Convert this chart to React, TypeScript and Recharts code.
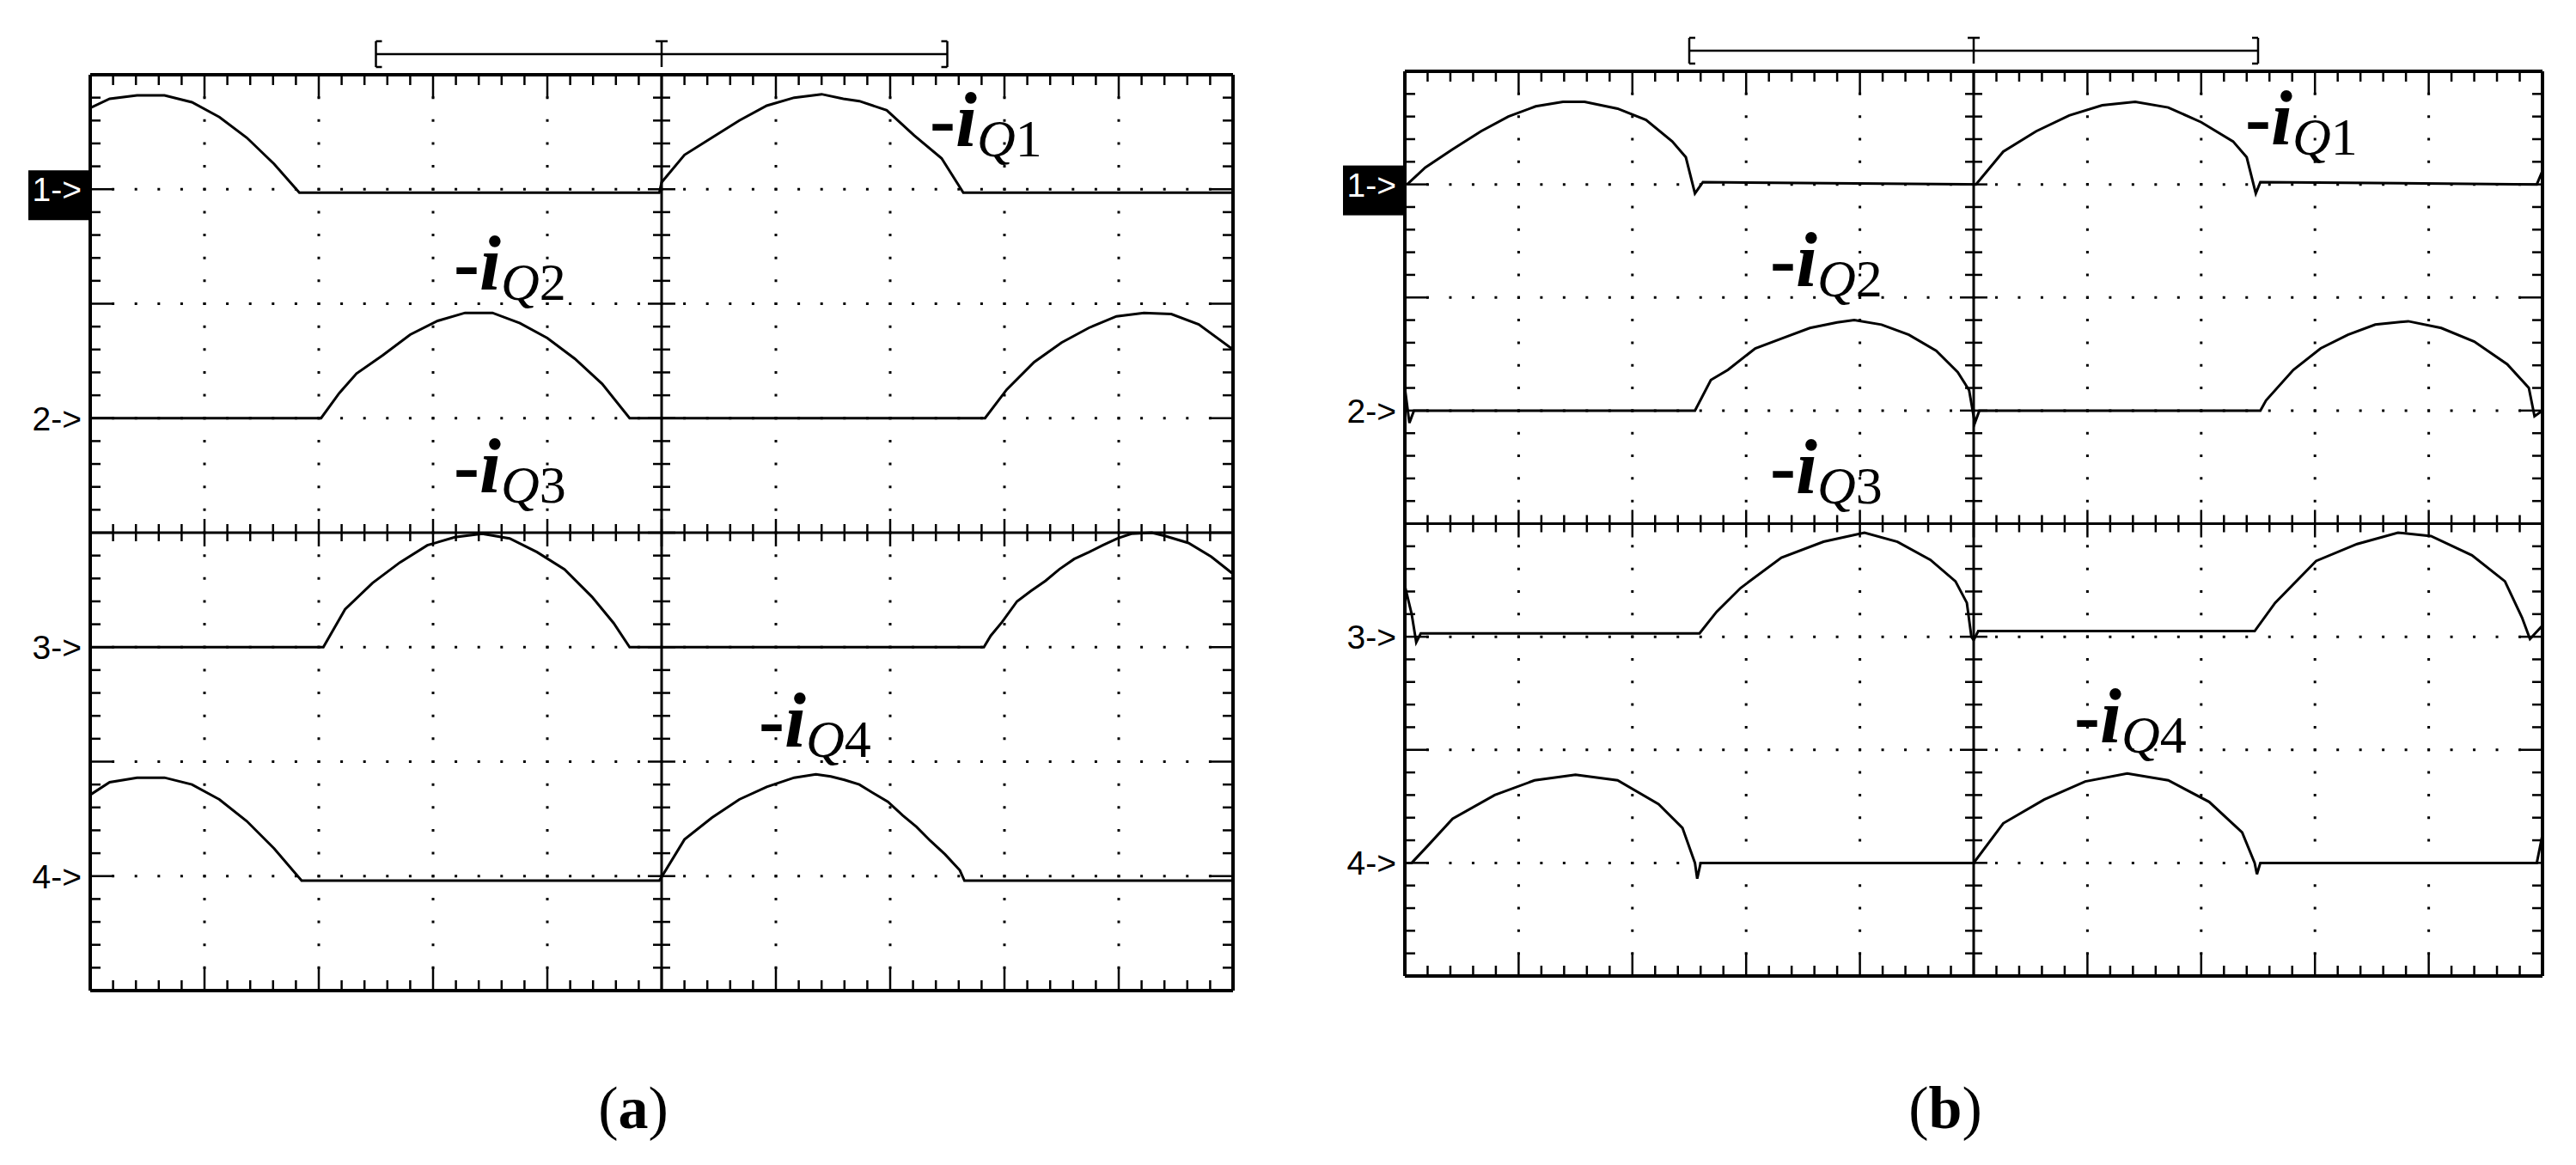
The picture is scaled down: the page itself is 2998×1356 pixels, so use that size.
import React from "react";
import { ComposedChart, Line, Scatter, XAxis, YAxis, ReferenceLine } from "recharts";

type Pt = [number, number];

// traces, in divisions: [time, height above the channel marker]
const traceA1: Pt[] = [
  [0, 0.71], [0.17, 0.79], [0.41, 0.82], [0.65, 0.82], [0.89, 0.76], [1.13, 0.63],
  [1.37, 0.45], [1.61, 0.22], [1.83, -0.03], [4.98, -0.03], [5.0, 0.06], [5.2, 0.3],
  [5.44, 0.45], [5.68, 0.6], [5.92, 0.73], [6.16, 0.8], [6.4, 0.83], [6.59, 0.79],
  [6.73, 0.77], [6.97, 0.69], [7.21, 0.47], [7.45, 0.27], [7.64, -0.03], [10, -0.03],
];
const traceA2: Pt[] = [
  [0, 0], [2.02, 0], [2.18, 0.22], [2.33, 0.39], [2.56, 0.55], [2.8, 0.73], [3.04, 0.85],
  [3.28, 0.92], [3.52, 0.92], [3.76, 0.83], [4.0, 0.7], [4.24, 0.52], [4.48, 0.3],
  [4.72, 0], [7.83, 0], [8.02, 0.25], [8.26, 0.49], [8.5, 0.66], [8.74, 0.79],
  [8.98, 0.89], [9.22, 0.92], [9.46, 0.91], [9.7, 0.82], [10, 0.6],
];
const traceA3: Pt[] = [
  [0, 0], [2.04, 0], [2.23, 0.33], [2.47, 0.56], [2.71, 0.74], [2.95, 0.89], [3.19, 0.96],
  [3.43, 0.99], [3.67, 0.95], [3.91, 0.83], [4.15, 0.68], [4.39, 0.44], [4.58, 0.21],
  [4.72, 0], [7.82, 0], [7.88, 0.1], [7.98, 0.22], [8.11, 0.4], [8.23, 0.49], [8.36, 0.58],
  [8.48, 0.68], [8.61, 0.77], [8.74, 0.83], [8.86, 0.89], [8.99, 0.95], [9.11, 0.99],
  [9.29, 1.0], [9.41, 0.97], [9.61, 0.91], [9.81, 0.79], [10, 0.64],
];
const traceA4: Pt[] = [
  [0, 0.71], [0.17, 0.82], [0.41, 0.86], [0.65, 0.86], [0.89, 0.8], [1.13, 0.67],
  [1.37, 0.48], [1.61, 0.24], [1.85, -0.04], [4.98, -0.04], [5.2, 0.32], [5.44, 0.51],
  [5.68, 0.67], [5.92, 0.78], [6.16, 0.86], [6.35, 0.89], [6.48, 0.87], [6.6, 0.84],
  [6.73, 0.8], [6.86, 0.72], [6.98, 0.65], [7.11, 0.53], [7.23, 0.43], [7.35, 0.31],
  [7.48, 0.19], [7.61, 0.05], [7.65, -0.04], [10, -0.04],
];

const traceB1: Pt[] = [
  [0.02, 0], [0.18, 0.15], [0.42, 0.31], [0.67, 0.47], [0.91, 0.6], [1.15, 0.69],
  [1.39, 0.73], [1.58, 0.73], [1.87, 0.67], [2.12, 0.57], [2.35, 0.38], [2.47, 0.24],
  [2.55, -0.08], [2.62, 0.02], [5.0, 0], [5.02, 0], [5.26, 0.29], [5.55, 0.47],
  [5.84, 0.61], [6.13, 0.7], [6.42, 0.73], [6.71, 0.68], [7.0, 0.55], [7.28, 0.38],
  [7.4, 0.24], [7.48, -0.08], [7.52, 0.02], [9.95, 0], [10, 0.12],
];
const traceB2: Pt[] = [
  [0, 0.2], [0.04, -0.11], [0.08, 0], [2.55, 0], [2.69, 0.27], [2.84, 0.36], [3.08, 0.55],
  [3.32, 0.64], [3.56, 0.73], [3.8, 0.78], [3.95, 0.8], [4.19, 0.76], [4.43, 0.67],
  [4.67, 0.53], [4.86, 0.34], [4.96, 0.18], [5.01, -0.11], [5.05, 0], [7.52, 0],
  [7.57, 0.09], [7.81, 0.36], [8.05, 0.55], [8.29, 0.67], [8.53, 0.76], [8.82, 0.79],
  [9.11, 0.73], [9.4, 0.61], [9.69, 0.41], [9.88, 0.2], [9.93, -0.05], [10, 0],
];
const traceB3: Pt[] = [
  [0, 0.45], [0.06, 0.2], [0.1, -0.05], [0.14, 0.03], [2.59, 0.03], [2.74, 0.22],
  [2.95, 0.43], [3.31, 0.7], [3.68, 0.84], [4.04, 0.92], [4.33, 0.84], [4.62, 0.68],
  [4.84, 0.49], [4.94, 0.3], [4.98, 0], [5.0, -0.03], [5.04, 0.05], [7.47, 0.05],
  [7.65, 0.3], [8.01, 0.67], [8.37, 0.82], [8.73, 0.92], [9.02, 0.89], [9.38, 0.72],
  [9.67, 0.49], [9.82, 0.17], [9.89, -0.02], [10, 0.1],
];
const traceB4: Pt[] = [
  [0, 0], [0.06, 0], [0.2, 0.15], [0.42, 0.39], [0.79, 0.6], [1.14, 0.73], [1.5, 0.78],
  [1.87, 0.73], [2.23, 0.52], [2.44, 0.31], [2.55, 0], [2.57, -0.14], [2.6, 0], [5.0, 0],
  [5.26, 0.35], [5.62, 0.56], [5.98, 0.72], [6.35, 0.79], [6.71, 0.73], [7.07, 0.54],
  [7.36, 0.27], [7.47, 0], [7.49, -0.1], [7.52, 0], [9.95, 0], [10, 0.25],
];

const channelLevels = [3, 1, -1, -3];
const channelNames = ["1->", "2->", "3->", "4->"];
const dottedRows = [3, 2, 1, -1, -2, -3];
const dottedCols = [1, 2, 3, 4, 6, 7, 8, 9];
const minorX = Array.from({ length: 49 }, (_, i) => ((i + 1) * 2) / 10);
const minorY = Array.from({ length: 39 }, (_, i) => ((i + 1) * 2 - 40) / 10);

const tickMarks = [
  ...minorX.map((x) => ({ x, y: 4, kind: "top" })),
  ...minorX.map((x) => ({ x, y: -4, kind: "bottom" })),
  ...minorY.map((y) => ({ x: 0, y, kind: "left" })),
  ...minorY.map((y) => ({ x: 10, y, kind: "right" })),
  ...minorX.map((x) => ({ x, y: 0, kind: "hc" })),
  ...minorY.map((y) => ({ x: 5, y, kind: "vc" })),
];

const qLabels = [
  { x: 1082, y: 170, n: "1" }, { x: 528, y: 337, n: "2" },
  { x: 528, y: 573, n: "3" }, { x: 883, y: 869, n: "4" },
  { x: 2613, y: 168, n: "1" }, { x: 2060, y: 333, n: "2" },
  { x: 2060, y: 574, n: "3" }, { x: 2414, y: 864, n: "4" },
];
const captions = [
  { x: 737, y: 1313, t: "a" },
  { x: 2264, y: 1313, t: "b" },
];

const serifFont = "'Liberation Serif', 'Times New Roman', Times, serif";

const toSeries = (trace: Pt[], level: number) => trace.map(([x, v]) => ({ x, y: level + v }));

function TickMark(props: any) {
  const { cx, cy, payload } = props;
  const { kind, x, y } = payload;
  const along = kind === "top" || kind === "bottom" || kind === "hc" ? x : y;
  const major = Math.abs(along - Math.round(along)) < 1e-6;
  const len = major ? 27 : 12;
  let x1 = cx, x2 = cx, y1 = cy, y2 = cy;
  if (kind === "top") y2 = cy + len;
  else if (kind === "bottom") y2 = cy - len;
  else if (kind === "left") x2 = cx + len;
  else if (kind === "right") x2 = cx - len;
  else if (kind === "hc") { const h = major ? 16 : 10; y1 = cy - h; y2 = cy + h; }
  else { const h = major ? 16 : 10; x1 = cx - h; x2 = cx + h; }
  return <line x1={x1} y1={y1} x2={x2} y2={y2} stroke="#000" strokeWidth={2.5} />;
}

function ChannelTick(props: any) {
  const { x, y, payload } = props;
  const idx = channelLevels.indexOf(payload.value);
  const boxed = idx === 0;
  return (
    <g>
      {boxed && <rect x={x - 72} y={y - 22} width={72} height={58} fill="#000" />}
      <text
        x={x - 10}
        y={y + 14}
        textAnchor="end"
        fontSize={39}
        fontFamily="'Liberation Sans', Arial, sans-serif"
        fill={boxed ? "#fff" : "#000"}
        style={{ fontSize: 39 }}
      >
        {channelNames[idx]}
      </text>
    </g>
  );
}

function Scope({ traces, left, top, plotW, plotH }: { traces: Pt[][]; left: number; top: number; plotW: number; plotH: number }) {
  const margin = { top: 60, right: 12, bottom: 12, left: 12 };
  const labelW = 80;
  const width = margin.left + labelW + plotW + margin.right;
  const height = margin.top + plotH + margin.bottom;
  const ux = plotW / 50;
  const uy = plotH / 40;
  const dy = plotH / 8;
  const dx = plotW / 10;
  const bLine = 4 + 24 / dy;
  const bTop = 4 + 39 / dy;
  const bBot = 4 + 9 / dy;
  const serif = 7 / dx;
  const seg = (x1: number, y1: number, x2: number, y2: number, k: string) => (
    <ReferenceLine
      key={k}
      segment={[{ x: x1, y: y1 }, { x: x2, y: y2 }]}
      stroke="#000"
      strokeWidth={2.5}
      ifOverflow="visible"
    />
  );
  return (
    <div style={{ position: "absolute", left: left - margin.left - labelW, top: top - margin.top }}>
      <ComposedChart width={width} height={height} margin={margin} style={{ overflow: "visible" }}>
        <XAxis type="number" dataKey="x" domain={[0, 10]} allowDataOverflow hide />
        <YAxis
          type="number"
          dataKey="y"
          domain={[-4, 4]}
          allowDataOverflow
          width={labelW}
          ticks={channelLevels}
          interval={0}
          axisLine={false}
          tickLine={false}
          tickSize={0}
          tickMargin={0}
          tick={<ChannelTick />}
        />
        {dottedRows.map((r) => (
          <ReferenceLine key={`r${r}`} y={r} stroke="#000" strokeWidth={3} strokeDasharray={`3 ${ux - 3}`} strokeDashoffset={1.5} />
        ))}
        {dottedCols.map((c) => (
          <ReferenceLine key={`c${c}`} x={c} stroke="#000" strokeWidth={3} strokeDasharray={`3 ${uy - 3}`} strokeDashoffset={1.5} />
        ))}
        <ReferenceLine y={0} stroke="#000" strokeWidth={3} />
        <ReferenceLine x={5} stroke="#000" strokeWidth={3} />
        <ReferenceLine y={4} stroke="#000" strokeWidth={4} />
        <ReferenceLine y={-4} stroke="#000" strokeWidth={4} />
        <ReferenceLine x={0} stroke="#000" strokeWidth={4} />
        <ReferenceLine x={10} stroke="#000" strokeWidth={4} />
        <Scatter data={tickMarks} shape={<TickMark />} isAnimationActive={false} />
        {seg(2.5, bLine, 7.5, bLine, "b0")}
        {seg(2.5, bBot, 2.5, bTop, "b1")}
        {seg(2.5, bTop, 2.5 + serif, bTop, "b2")}
        {seg(2.5, bBot, 2.5 + serif, bBot, "b3")}
        {seg(7.5, bBot, 7.5, bTop, "b4")}
        {seg(7.5, bTop, 7.5 - serif, bTop, "b5")}
        {seg(7.5, bBot, 7.5 - serif, bBot, "b6")}
        {seg(5, bBot, 5, bTop, "b7")}
        {seg(5 - serif, bTop, 5 + serif, bTop, "b8")}
        {traces.map((t, i) => (
          <Line
            key={`t${i}`}
            data={toSeries(t, channelLevels[i])}
            dataKey="y"
            type="linear"
            dot={false}
            stroke="#000"
            strokeWidth={3}
            isAnimationActive={false}
          />
        ))}
      </ComposedChart>
    </div>
  );
}

export default function App() {
  return (
    <div style={{ position: "relative", width: 2998, height: 1356, background: "#fff", overflow: "hidden" }}>
      <style>{`body{margin:0;background:#fff}`}</style>
      <Scope traces={[traceA1, traceA2, traceA3, traceA4]} left={105} top={87} plotW={1330} plotH={1066} />
      <Scope traces={[traceB1, traceB2, traceB3, traceB4]} left={1635} top={83} plotW={1324} plotH={1053} />
      <svg width={2998} height={1356} style={{ position: "absolute", left: 0, top: 0, pointerEvents: "none" }}>
        {qLabels.map((q, i) => (
          <text key={i} x={q.x} y={q.y} fill="#000" style={{ fontFamily: serifFont }}>
            <tspan style={{ fontSize: 90, fontWeight: 700 }}>-</tspan>
            <tspan style={{ fontSize: 90, fontWeight: 700, fontStyle: "italic" }}>i</tspan>
            <tspan dy={12} style={{ fontSize: 62, fontStyle: "italic" }}>Q</tspan>
            <tspan style={{ fontSize: 62 }}>{q.n}</tspan>
          </text>
        ))}
        {captions.map((c) => (
          <text key={c.t} x={c.x} y={c.y} textAnchor="middle" fill="#000" style={{ fontFamily: serifFont, fontSize: 70 }}>
            <tspan>(</tspan>
            <tspan style={{ fontWeight: 700 }}>{c.t}</tspan>
            <tspan>)</tspan>
          </text>
        ))}
      </svg>
    </div>
  );
}
